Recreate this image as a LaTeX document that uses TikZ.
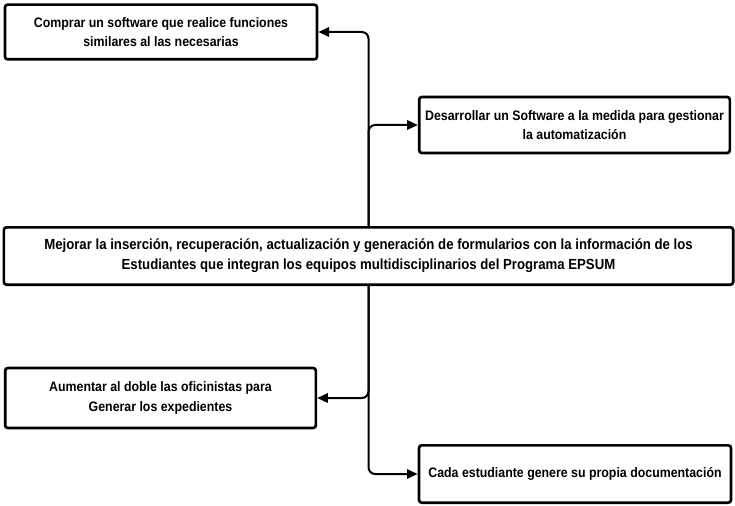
\documentclass[tikz,border=0pt]{standalone}
\usepackage{fontspec}
\setmainfont[FakeStretch=0.9]{Liberation Sans}
\usetikzlibrary{arrows.meta}

\begin{document}
\begin{tikzpicture}[x = 0.75pt, y = -0.75pt,
        opcion/.style = {draw, line width = 2pt, rounded corners = 2pt, align = center,
            font = \bfseries\fontsize{10.3}{14.5}\selectfont, inner sep = 0pt},
        flecha/.style = {line width = 1.5pt, rounded corners = 5pt,
            -{Triangle[length = 8pt, width = 7pt]}}]
            \useasboundingbox (0,0) rectangle (735,506);
            \node[opcion, minimum width = 234pt, minimum height = 41pt] (comprar) at (161,32)
                {Comprar un software que realice funciones\\similares al las necesarias};
            \node[opcion, minimum width = 233pt, minimum height = 42pt] (desarrollar) at (574.5,125)
                {Desarrollar un Software a la medida para gestionar\\la automatización};
            \node[opcion, minimum width = 547pt, minimum height = 43pt,
                font = \bfseries\fontsize{11}{15}\selectfont] (mejorar) at (368.5,256)
                {Mejorar la inserción, recuperación, actualización y generación de formularios con la información de los\\Estudiantes que integran los equipos multidisciplinarios del Programa EPSUM};
            \node[opcion, minimum width = 233pt, minimum height = 45pt] (aumentar) at (160.5,398)
                {Aumentar al doble las oficinistas para\\Generar los expedientes};
            \node[opcion, minimum width = 234pt, minimum height = 43pt] (cada) at (575,474)
                {Cada estudiante genere su propia documentación};
            % ramas hacia arriba
            \draw[flecha] (mejorar.north) |- (comprar.east);
            \draw[flecha] (mejorar.north) |- (desarrollar.west);
            % ramas hacia abajo
            \draw[flecha] (mejorar.south) |- (aumentar.east);
            \draw[flecha] (mejorar.south) |- (cada.west);
        \end{tikzpicture}
\end{document}
